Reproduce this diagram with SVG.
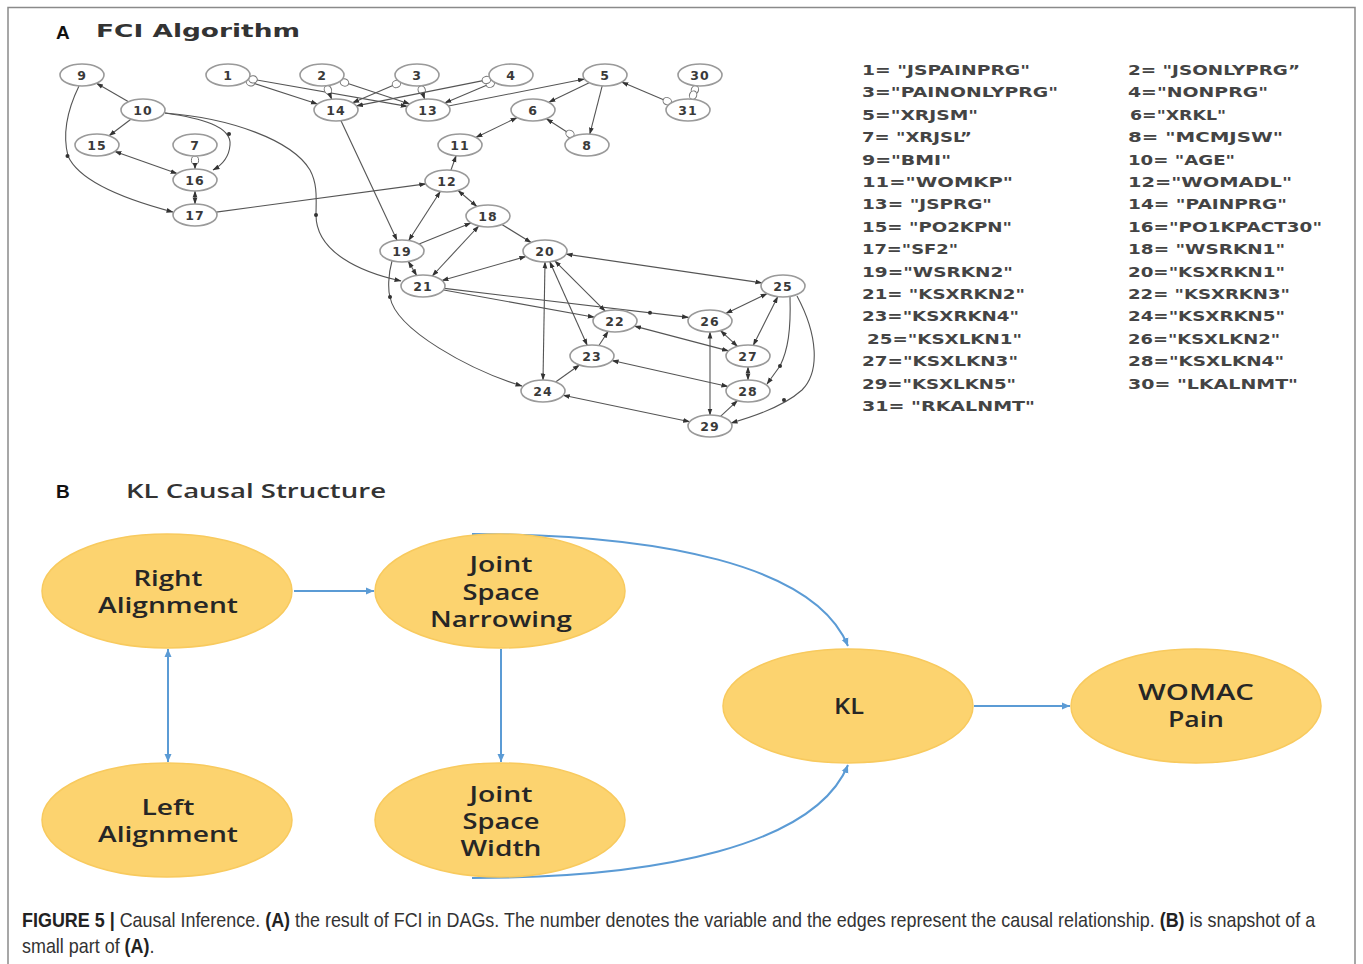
<svg xmlns="http://www.w3.org/2000/svg" width="1363" height="964" viewBox="0 0 1363 964">
<style>
.frame{fill:none;stroke:#8a8a8a;stroke-width:1.5}
.nd ellipse{fill:#fff;stroke:#9a9a9a;stroke-width:1.6}
.nd text{font-family:"DejaVu Sans",sans-serif;font-weight:bold;font-size:12.5px;fill:#3a3a3a;text-anchor:middle;letter-spacing:1px}
.e{fill:none;stroke:#555;stroke-width:1.1}
.aa{marker-start:url(#ah);marker-end:url(#ah)}
.ta{marker-end:url(#ah)}
.ca{marker-start:url(#oc);marker-end:url(#ah)}
.cc{marker-start:url(#oc);marker-end:url(#oc)}
.dot{fill:#333}
.leg text{font-family:"DejaVu Sans",sans-serif;font-weight:bold;font-size:13.5px;fill:#444}
.ttl{font-family:"DejaVu Sans",sans-serif;font-weight:bold;fill:#333}
.lbl{font-family:"Liberation Sans",Arial,sans-serif;font-weight:bold;fill:#111}
.bn ellipse{fill:#fcd36f;stroke:#f8ca5e;stroke-width:1.5}
.bn text{font-family:"Open Sans",sans-serif;font-weight:600;font-size:21px;fill:#262626;text-anchor:middle}
.be{fill:none;stroke:#5b9bd5;stroke-width:2}
.cap{font-family:"Liberation Sans",Arial,sans-serif;font-size:20px;fill:#333}
</style>
<defs>
<marker id="ah" viewBox="0 0 7 6" refX="6.5" refY="3" markerWidth="7" markerHeight="6" markerUnits="userSpaceOnUse" orient="auto-start-reverse">
<path d="M0,0.6 L7,3 L0,5.4 z" fill="#333"/>
</marker>
<marker id="oc" viewBox="0 0 10 10" refX="9.5" refY="5" markerWidth="10" markerHeight="10" markerUnits="userSpaceOnUse" orient="auto-start-reverse">
<ellipse cx="5.2" cy="5" rx="4.3" ry="3.6" fill="#fff" stroke="#777" stroke-width="1"/>
</marker>
<marker id="bh" viewBox="0 0 8 8" refX="8" refY="4" markerWidth="8" markerHeight="8" markerUnits="userSpaceOnUse" orient="auto-start-reverse">
<path d="M0,0.5 L8,4 L0,7.5 z" fill="#5b9bd5"/>
</marker>
</defs>
<rect width="1363" height="964" fill="#fff"/>
<path class="frame" d="M8,964 L8,7.5 L1355,7.5 L1355,964"/>

<text class="lbl" x="56" y="39" font-size="19">A</text>
<text class="ttl" x="96" y="37" font-size="18" textLength="204" lengthAdjust="spacingAndGlyphs">FCI Algorithm</text>

<g id="connectorsA">
<line class="e ta" x1="128.5" y1="101.7" x2="96.5" y2="83.3"/>
<line class="e ta" x1="130.9" y1="119.2" x2="109.1" y2="135.8"/>
<line class="e aa" x1="114.9" y1="151.4" x2="177.1" y2="173.6"/>
<line class="e ca" x1="195" y1="156" x2="195" y2="169"/>
<line class="e aa" x1="195" y1="191" x2="195" y2="204"/>
<path class="e ta" d="M79,86 Q60,125 68,156 Q82,188 173,212"/>
<path class="e ta" d="M165,113 C200,118 232,126 230,145 C229,158 222,165 213,170"/>
<path class="e ta" d="M165,113 C230,118 292,140 310,170 C318,185 316,200 316,215 C316,252 360,272 401,281"/>
<line class="e ca" x1="246.5" y1="81" x2="317.5" y2="104"/>
<line class="e ca" x1="248.8" y1="78.6" x2="407.2" y2="106.4"/>
<line class="e ca" x1="326.3" y1="85.8" x2="331.7" y2="99.2"/>
<line class="e ca" x1="340.4" y1="81.1" x2="409.6" y2="103.9"/>
<line class="e ca" x1="400.4" y1="82.2" x2="352.6" y2="102.8"/>
<line class="e ca" x1="420.4" y1="85.9" x2="424.6" y2="99.1"/>
<line class="e ca" x1="494.2" y1="82.1" x2="444.8" y2="102.9"/>
<line class="e ca" x1="490.6" y1="79.1" x2="356.4" y2="105.9"/>
<line class="e ta" x1="448.5" y1="106" x2="584.5" y2="79"/>
<line class="e ta" x1="589.2" y1="82.7" x2="548.8" y2="102.3"/>
<line class="e ta" x1="602.2" y1="85.9" x2="589.8" y2="134.1"/>
<line class="e ca" x1="671.2" y1="102.9" x2="621.8" y2="82.1"/>
<line class="e cc" x1="696.3" y1="85.8" x2="691.7" y2="99.2"/>
<line class="e ca" x1="573.6" y1="136.3" x2="546.4" y2="118.7"/>
<line class="e aa" x1="517.1" y1="117.6" x2="475.9" y2="137.4"/>
<line class="e ta" x1="450.9" y1="170.2" x2="456.1" y2="155.8"/>
<line class="e aa" x1="458.1" y1="190.5" x2="476.9" y2="206.5"/>
<line class="e ta" x1="216.2" y1="212.1" x2="425.8" y2="183.9"/>
<line class="e ta" x1="341" y1="120.7" x2="397" y2="240.3"/>
<line class="e aa" x1="440.3" y1="191.5" x2="408.7" y2="240.5"/>
<line class="e ta" x1="419.1" y1="244.1" x2="470.9" y2="222.9"/>
<line class="e aa" x1="478.7" y1="226" x2="432.3" y2="276"/>
<line class="e ta" x1="501.9" y1="224.5" x2="531.1" y2="242.5"/>
<line class="e aa" x1="408.3" y1="261.5" x2="416.7" y2="275.5"/>
<line class="e aa" x1="525.9" y1="256.5" x2="441.9" y2="280.5"/>
<path class="e ta" d="M392,261 C388,275 388,290 390,297 C396,330 470,370 522,386"/>
<line class="e aa" x1="566.1" y1="254.1" x2="761.9" y2="282.9"/>
<line class="e ta" x1="443.7" y1="290" x2="594.3" y2="317.2"/>
<line class="e ta" x1="444.4" y1="288.4" x2="688.6" y2="317.4"/>
<line class="e aa" x1="554.8" y1="260.8" x2="605.2" y2="311.2"/>
<line class="e aa" x1="549.8" y1="261.7" x2="587.2" y2="345.3"/>
<line class="e aa" x1="545" y1="262" x2="543" y2="380"/>
<line class="e ta" x1="598.9" y1="345.5" x2="608.1" y2="331.5"/>
<line class="e ta" x1="555.6" y1="382" x2="579.4" y2="365"/>
<line class="e aa" x1="710" y1="332" x2="710" y2="415"/>
<line class="e aa" x1="767.1" y1="293.6" x2="725.9" y2="313.4"/>
<line class="e aa" x1="720.5" y1="330.7" x2="737.5" y2="346.3"/>
<line class="e aa" x1="634.5" y1="326.1" x2="728.5" y2="350.9"/>
<line class="e aa" x1="777.7" y1="296.7" x2="753.3" y2="345.3"/>
<line class="e aa" x1="612.1" y1="360.5" x2="727.9" y2="386.5"/>
<line class="e aa" x1="748" y1="367" x2="748" y2="380"/>
<path class="e ta" d="M790,297 C791,330 788,350 780,366 L767,384"/>
<path class="e ta" d="M797,296 C818,335 820,372 802,390 C792,399 770,412 731,423"/>
<line class="e aa" x1="563.3" y1="395.3" x2="689.7" y2="421.7"/>
<line class="e ta" x1="720.5" y1="416.3" x2="737.5" y2="400.7"/>
<circle class="dot" cx="67.5" cy="156" r="2"/>
<circle class="dot" cx="229" cy="134" r="2"/>
<circle class="dot" cx="316" cy="215" r="2"/>
<circle class="dot" cx="390" cy="297" r="2"/>
<circle class="dot" cx="650" cy="312.8" r="2"/>
<circle class="dot" cx="780" cy="366" r="2"/>
<circle class="dot" cx="784" cy="400" r="2"/>
</g>

<g id="n9" class="nd"><ellipse cx="82" cy="75" rx="22" ry="11"/><text x="82" y="79.5">9</text></g>
<g id="n1" class="nd"><ellipse cx="228" cy="75" rx="22" ry="11"/><text x="228" y="79.5">1</text></g>
<g id="n2" class="nd"><ellipse cx="322" cy="75" rx="22" ry="11"/><text x="322" y="79.5">2</text></g>
<g id="n3" class="nd"><ellipse cx="417" cy="75" rx="22" ry="11"/><text x="417" y="79.5">3</text></g>
<g id="n4" class="nd"><ellipse cx="511" cy="75" rx="22" ry="11"/><text x="511" y="79.5">4</text></g>
<g id="n5" class="nd"><ellipse cx="605" cy="75" rx="22" ry="11"/><text x="605" y="79.5">5</text></g>
<g id="n30" class="nd"><ellipse cx="700" cy="75" rx="22" ry="11"/><text x="700" y="79.5">30</text></g>
<g id="n10" class="nd"><ellipse cx="143" cy="110" rx="22" ry="11"/><text x="143" y="114.5">10</text></g>
<g id="n14" class="nd"><ellipse cx="336" cy="110" rx="22" ry="11"/><text x="336" y="114.5">14</text></g>
<g id="n13" class="nd"><ellipse cx="428" cy="110" rx="22" ry="11"/><text x="428" y="114.5">13</text></g>
<g id="n6" class="nd"><ellipse cx="533" cy="110" rx="22" ry="11"/><text x="533" y="114.5">6</text></g>
<g id="n31" class="nd"><ellipse cx="688" cy="110" rx="22" ry="11"/><text x="688" y="114.5">31</text></g>
<g id="n15" class="nd"><ellipse cx="97" cy="145" rx="22" ry="11"/><text x="97" y="149.5">15</text></g>
<g id="n7" class="nd"><ellipse cx="195" cy="145" rx="22" ry="11"/><text x="195" y="149.5">7</text></g>
<g id="n11" class="nd"><ellipse cx="460" cy="145" rx="22" ry="11"/><text x="460" y="149.5">11</text></g>
<g id="n8" class="nd"><ellipse cx="587" cy="145" rx="22" ry="11"/><text x="587" y="149.5">8</text></g>
<g id="n16" class="nd"><ellipse cx="195" cy="180" rx="22" ry="11"/><text x="195" y="184.5">16</text></g>
<g id="n12" class="nd"><ellipse cx="447" cy="181" rx="22" ry="11"/><text x="447" y="185.5">12</text></g>
<g id="n17" class="nd"><ellipse cx="195" cy="215" rx="22" ry="11"/><text x="195" y="219.5">17</text></g>
<g id="n18" class="nd"><ellipse cx="488" cy="216" rx="22" ry="11"/><text x="488" y="220.5">18</text></g>
<g id="n19" class="nd"><ellipse cx="402" cy="251" rx="22" ry="11"/><text x="402" y="255.5">19</text></g>
<g id="n20" class="nd"><ellipse cx="545" cy="251" rx="22" ry="11"/><text x="545" y="255.5">20</text></g>
<g id="n21" class="nd"><ellipse cx="423" cy="286" rx="22" ry="11"/><text x="423" y="290.5">21</text></g>
<g id="n25" class="nd"><ellipse cx="783" cy="286" rx="22" ry="11"/><text x="783" y="290.5">25</text></g>
<g id="n22" class="nd"><ellipse cx="615" cy="321" rx="22" ry="11"/><text x="615" y="325.5">22</text></g>
<g id="n26" class="nd"><ellipse cx="710" cy="321" rx="22" ry="11"/><text x="710" y="325.5">26</text></g>
<g id="n23" class="nd"><ellipse cx="592" cy="356" rx="22" ry="11"/><text x="592" y="360.5">23</text></g>
<g id="n27" class="nd"><ellipse cx="748" cy="356" rx="22" ry="11"/><text x="748" y="360.5">27</text></g>
<g id="n24" class="nd"><ellipse cx="543" cy="391" rx="22" ry="11"/><text x="543" y="395.5">24</text></g>
<g id="n28" class="nd"><ellipse cx="748" cy="391" rx="22" ry="11"/><text x="748" y="395.5">28</text></g>
<g id="n29" class="nd"><ellipse cx="710" cy="426" rx="22" ry="11"/><text x="710" y="430.5">29</text></g>

<g id="legend" class="leg">
<text x="862" y="75" textLength="168" lengthAdjust="spacingAndGlyphs">1= "JSPAINPRG"</text>
<text x="1128" y="75" textLength="172" lengthAdjust="spacingAndGlyphs">2= "JSONLYPRG”</text>
<text x="862" y="97.4" textLength="196" lengthAdjust="spacingAndGlyphs">3="PAINONLYPRG"</text>
<text x="1128" y="97.4" textLength="140" lengthAdjust="spacingAndGlyphs">4="NONPRG"</text>
<text x="862" y="119.8" textLength="116" lengthAdjust="spacingAndGlyphs">5="XRJSM"</text>
<text x="1130" y="119.8" textLength="96" lengthAdjust="spacingAndGlyphs">6="XRKL"</text>
<text x="862" y="142.2" textLength="110" lengthAdjust="spacingAndGlyphs">7= "XRJSL”</text>
<text x="1128" y="142.2" textLength="155" lengthAdjust="spacingAndGlyphs">8= "MCMJSW"</text>
<text x="862" y="164.6" textLength="89" lengthAdjust="spacingAndGlyphs">9="BMI"</text>
<text x="1128" y="164.6" textLength="107" lengthAdjust="spacingAndGlyphs">10= "AGE"</text>
<text x="862" y="187" textLength="151" lengthAdjust="spacingAndGlyphs">11="WOMKP"</text>
<text x="1128" y="187" textLength="164" lengthAdjust="spacingAndGlyphs">12="WOMADL"</text>
<text x="862" y="209.4" textLength="130" lengthAdjust="spacingAndGlyphs">13= "JSPRG"</text>
<text x="1128" y="209.4" textLength="159" lengthAdjust="spacingAndGlyphs">14= "PAINPRG"</text>
<text x="862" y="231.8" textLength="150" lengthAdjust="spacingAndGlyphs">15= "PO2KPN"</text>
<text x="1128" y="231.8" textLength="194" lengthAdjust="spacingAndGlyphs">16="PO1KPACT30"</text>
<text x="862" y="254.2" textLength="96" lengthAdjust="spacingAndGlyphs">17="SF2"</text>
<text x="1128" y="254.2" textLength="157" lengthAdjust="spacingAndGlyphs">18= "WSRKN1"</text>
<text x="862" y="276.6" textLength="151" lengthAdjust="spacingAndGlyphs">19="WSRKN2"</text>
<text x="1128" y="276.6" textLength="157" lengthAdjust="spacingAndGlyphs">20="KSXRKN1"</text>
<text x="862" y="299" textLength="163" lengthAdjust="spacingAndGlyphs">21= "KSXRKN2"</text>
<text x="1128" y="299" textLength="162" lengthAdjust="spacingAndGlyphs">22= "KSXRKN3"</text>
<text x="862" y="321.4" textLength="157" lengthAdjust="spacingAndGlyphs">23="KSXRKN4"</text>
<text x="1128" y="321.4" textLength="157" lengthAdjust="spacingAndGlyphs">24="KSXRKN5"</text>
<text x="867" y="343.8" textLength="155" lengthAdjust="spacingAndGlyphs">25="KSXLKN1"</text>
<text x="1128" y="343.8" textLength="152" lengthAdjust="spacingAndGlyphs">26="KSXLKN2"</text>
<text x="862" y="366.2" textLength="156" lengthAdjust="spacingAndGlyphs">27="KSXLKN3"</text>
<text x="1128" y="366.2" textLength="156" lengthAdjust="spacingAndGlyphs">28="KSXLKN4"</text>
<text x="862" y="388.6" textLength="154" lengthAdjust="spacingAndGlyphs">29="KSXLKN5"</text>
<text x="1128" y="388.6" textLength="170" lengthAdjust="spacingAndGlyphs">30= "LKALNMT"</text>
<text x="862" y="411" textLength="173" lengthAdjust="spacingAndGlyphs">31= "RKALNMT"</text>
</g>

<text class="lbl" x="56" y="498" font-size="19">B</text>
<text x="126" y="498" font-size="20" textLength="260" lengthAdjust="spacingAndGlyphs" style="font-family:'Open Sans',sans-serif;font-weight:600;fill:#333">KL Causal Structure</text>

<g id="connectorsB">
<line class="be" x1="294" y1="591" x2="374" y2="591" marker-end="url(#bh)"/>
<line class="be" x1="168" y1="649" x2="168" y2="762" marker-start="url(#bh)" marker-end="url(#bh)"/>
<line class="be" x1="501" y1="649" x2="501" y2="762" marker-end="url(#bh)"/>
<path class="be" d="M472,534 C660,534 815,565 848,646" marker-end="url(#bh)"/>
<path class="be" d="M472,878 C660,878 815,845 848,765" marker-end="url(#bh)"/>
<line class="be" x1="974" y1="706" x2="1070" y2="706" marker-end="url(#bh)"/>
</g>

<g id="b_right" class="bn"><ellipse cx="167" cy="591" rx="125" ry="57"/>
<text x="168" y="586" textLength="69" lengthAdjust="spacingAndGlyphs">Right</text>
<text x="168" y="613" textLength="140" lengthAdjust="spacingAndGlyphs">Alignment</text></g>
<g id="b_jsn" class="bn"><ellipse cx="500" cy="591" rx="125" ry="57"/>
<text x="501" y="572" textLength="63" lengthAdjust="spacingAndGlyphs">Joint</text>
<text x="501" y="600" textLength="77" lengthAdjust="spacingAndGlyphs">Space</text>
<text x="501" y="627" textLength="142" lengthAdjust="spacingAndGlyphs">Narrowing</text></g>
<g id="b_left" class="bn"><ellipse cx="167" cy="820" rx="125" ry="57"/>
<text x="168" y="815" textLength="53" lengthAdjust="spacingAndGlyphs">Left</text>
<text x="168" y="842" textLength="140" lengthAdjust="spacingAndGlyphs">Alignment</text></g>
<g id="b_jsw" class="bn"><ellipse cx="500" cy="820" rx="125" ry="57"/>
<text x="501" y="802" textLength="63" lengthAdjust="spacingAndGlyphs">Joint</text>
<text x="501" y="829" textLength="77" lengthAdjust="spacingAndGlyphs">Space</text>
<text x="501" y="856" textLength="81" lengthAdjust="spacingAndGlyphs">Width</text></g>
<g id="b_kl" class="bn"><ellipse cx="848" cy="706" rx="125" ry="57"/>
<text x="849" y="714" textLength="30" lengthAdjust="spacingAndGlyphs">KL</text></g>
<g id="b_womac" class="bn"><ellipse cx="1196" cy="706" rx="125" ry="57"/>
<text x="1196" y="700" textLength="116" lengthAdjust="spacingAndGlyphs">WOMAC</text>
<text x="1196" y="727" textLength="56" lengthAdjust="spacingAndGlyphs">Pain</text></g>

<text class="cap" transform="translate(22,927) scale(0.897,1)" x="0" y="0"><tspan font-weight="bold" fill="#222">FIGURE 5 |</tspan> Causal Inference. <tspan font-weight="bold" fill="#222">(A)</tspan> the result of FCI in DAGs. The number denotes the variable and the edges represent the causal relationship. <tspan font-weight="bold" fill="#222">(B)</tspan> is snapshot of a</text>
<text class="cap" transform="translate(22,953) scale(0.897,1)" x="0" y="0">small part of <tspan font-weight="bold" fill="#222">(A)</tspan>.</text>
</svg>
